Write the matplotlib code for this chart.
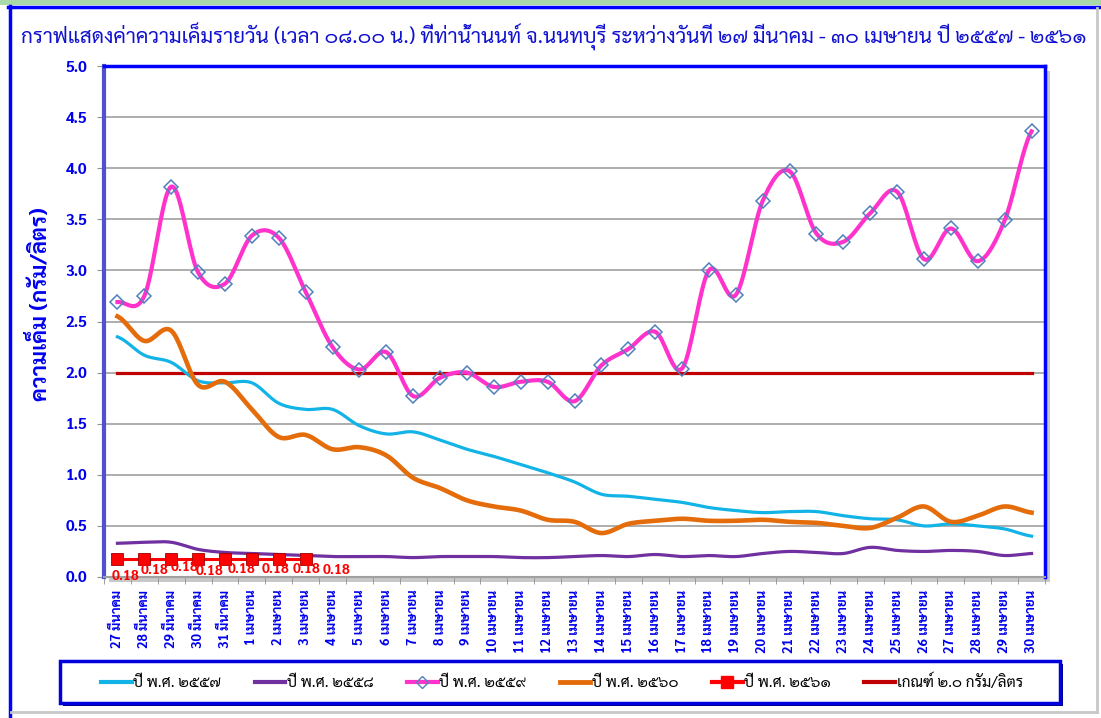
import numpy as np
import matplotlib
matplotlib.use('Agg')
import matplotlib.pyplot as plt
from matplotlib import font_manager
from matplotlib.lines import Line2D
from matplotlib.patches import Rectangle

# วันที่ (แกน x)
days = [f'{d} มีนาคม' for d in range(27, 32)] + [f'{d} เมษายน' for d in range(1, 31)]

# ค่าความเค็มรายปี (กรัม/ลิตร)
y2557 = [2.35, 2.17, 2.10, 1.92, 1.90, 1.90, 1.70, 1.64, 1.64, 1.48, 1.40, 1.42,
         1.34, 1.25, 1.18, 1.10, 1.02, 0.93, 0.81, 0.79, 0.76, 0.73, 0.68, 0.65,
         0.63, 0.64, 0.64, 0.60, 0.57, 0.56, 0.50, 0.52, 0.50, 0.47, 0.40]
y2558 = [0.33, 0.34, 0.34, 0.27, 0.24, 0.23, 0.22, 0.21, 0.20, 0.20, 0.20, 0.19,
         0.20, 0.20, 0.20, 0.19, 0.19, 0.20, 0.21, 0.20, 0.22, 0.20, 0.21, 0.20,
         0.23, 0.25, 0.24, 0.23, 0.29, 0.26, 0.25, 0.26, 0.25, 0.21, 0.23]
y2559 = [2.69, 2.75, 3.82, 2.98, 2.87, 3.34, 3.32, 2.79, 2.25, 2.03, 2.20, 1.77,
         1.95, 2.00, 1.86, 1.91, 1.91, 1.72, 2.07, 2.23, 2.40, 2.04, 3.00, 2.76,
         3.68, 3.97, 3.36, 3.28, 3.56, 3.77, 3.11, 3.41, 3.09, 3.49, 4.36]
y2560 = [2.55, 2.31, 2.41, 1.88, 1.91, 1.64, 1.37, 1.39, 1.25, 1.27, 1.19, 0.97,
         0.87, 0.75, 0.69, 0.65, 0.56, 0.54, 0.43, 0.52, 0.55, 0.57, 0.55, 0.55,
         0.56, 0.54, 0.53, 0.50, 0.48, 0.58, 0.69, 0.54, 0.60, 0.69, 0.63]
y2561 = [0.18, 0.18, 0.18, 0.18, 0.18, 0.18, 0.18, 0.18]
limit = 2.0

W, H = 1101, 718


def fx(px):
    return px / W


def fy(py):
    return 1 - py / H


def smooth(y, n=20):
    # เส้นโค้งแบบ Catmull-Rom ให้คล้ายเส้น smooth ของ Excel
    y = np.asarray(y, float)
    p = np.concatenate([[y[0]], y, [y[-1]]])
    xs, ys = [], []
    t = np.linspace(0, 1, n, endpoint=False)
    for i in range(len(y) - 1):
        p0, p1, p2, p3 = p[i], p[i + 1], p[i + 2], p[i + 3]
        seg = 0.5 * (2 * p1 + (p2 - p0) * t + (2 * p0 - 5 * p1 + 4 * p2 - p3) * t ** 2
                     + (3 * p1 - p0 - 3 * p2 + p3) * t ** 3)
        xs.append(i + t)
        ys.append(seg)
    xs.append([len(y) - 1])
    ys.append([y[-1]])
    return np.concatenate(xs), np.concatenate(ys)


# เลือกฟอนต์ไทยที่มีตัวหนา
bold_names = {f.name for f in font_manager.fontManager.ttflist
              if f.weight in (700, 'bold') or (isinstance(f.weight, int) and f.weight >= 600)}
thai = 'DejaVu Sans'
for name in ['Noto Sans Thai Looped', 'Sarabun', 'Noto Sans Thai', 'Anuphan']:
    if name in bold_names:
        thai = name
        break
plt.rcParams['font.family'] = [thai, 'DejaVu Sans']

blue = '#0000EE'
c57, c58, c59, c60, c61, climit = '#12B3E6', '#7030A0', '#FF33CC', '#E46C0A', '#FF0000', '#C00000'

fig = plt.figure(figsize=(W / 100, H / 100), dpi=100)

# กรอบนอก
fig.patches.append(Rectangle((0, fy(5)), 1, 5 / H, transform=fig.transFigure,
                             facecolor='#A9D8A9', edgecolor='none', zorder=0))
fig.add_artist(Line2D([fx(9.5), fx(9.5)], [0, fy(6)], color='#0000FF', lw=2.5))
fig.add_artist(Line2D([fx(8), 1], [fy(6.5), fy(6.5)], color='#0000FF', lw=2.5))
fig.add_artist(Line2D([fx(1097), fx(1097)], [fy(712), fy(8)], color='#C8C8C8', lw=2))
fig.add_artist(Line2D([fx(11), fx(1097)], [fy(712), fy(712)], color='#C8C8C8', lw=2))

fig.text(fx(21), fy(37), 'กราฟแสดงค่าความเค็มรายวัน (เวลา ๐๘.๐๐ น.) ที่ท่าน้ำนนท์ จ.นนทบุรี '
         'ระหว่างวันที่ ๒๗ มีนาคม - ๓๐ เมษายน ปี ๒๕๕๗ - ๒๕๖๑',
         ha='left', va='center', fontsize=14.9, color='#1010D0')

ax_l, ax_r, ax_t, ax_b = 104, 1045, 66, 577
# เงาพื้นที่กราฟ
fig.patches.append(Rectangle((fx(ax_l + 5), fy(ax_b + 5)), (ax_r - ax_l) / W, (ax_b - ax_t) / H,
                             transform=fig.transFigure, facecolor='#C8C8C8', edgecolor='none', zorder=0))
ax = fig.add_axes([fx(ax_l), fy(ax_b), (ax_r - ax_l) / W, (ax_b - ax_t) / H])
ax.set_zorder(3)
ax.set_facecolor('white')

x = np.arange(len(days))
sx, sy = smooth(y2557)
ax.plot(sx, sy, color=c57, lw=2.3, zorder=3)
sx, sy = smooth(y2558)
ax.plot(sx, sy, color=c58, lw=2.3, zorder=3)
sx, sy = smooth(y2559)
ax.plot(sx, sy, color=c59, lw=3, zorder=4)
ax.plot(x, y2559, ls='none', marker='D', ms=7, mfc='none', mec='#4F81BD', mew=1.1, zorder=5)
sx, sy = smooth(y2560)
ax.plot(sx, sy, color=c60, lw=3.3, zorder=3)
ax.plot(x[:len(y2561)], y2561, color=c61, lw=2.2, marker='s', ms=9, mfc=c61, mec='#A00000',
        mew=0.6, zorder=6)
ax.plot(x, [limit] * len(x), color=climit, lw=2.3, zorder=2)

# ป้ายค่าของปี ๒๕๖๑ (เลื่อนแบบใน Excel)
label_dx = [8, 10, 13, 11, 17, 24, 28, 31]
label_dy = [-18, -12, -9, -13, -11, -11, -11, -12]
for i, v in enumerate(y2561):
    ax.annotate(f'{v:.2f}', (i, v), xytext=(label_dx[i] * 0.72, label_dy[i] * 0.72),
                textcoords='offset points', ha='center', va='center', fontsize=10,
                fontweight='bold', color=c61, zorder=7)

ax.set_xlim(-0.5, len(days) - 0.5)
ax.set_ylim(0, 5)
ax.set_yticks(np.arange(0, 5.01, 0.5))
ax.set_yticklabels([f'{v:.1f}' for v in np.arange(0, 5.01, 0.5)])
ax.set_xticks(x)
ax.set_xticklabels(days, rotation=90)
ax.set_xticks(np.arange(-0.5, len(days), 1), minor=True)
ax.tick_params(axis='x', which='major', length=0, pad=9, labelsize=9.5, labelcolor=blue)
ax.tick_params(axis='x', which='minor', length=5, color='#909090', direction='out')
ax.tick_params(axis='y', length=5, color='#909090', pad=7, labelsize=11, labelcolor=blue)
for lbl in ax.get_xticklabels() + ax.get_yticklabels():
    lbl.set_fontweight('bold')
ax.grid(axis='y', color='#A0A0A0', lw=1.2, zorder=1)
ax.set_axisbelow(True)
ax.spines['left'].set_color('#5050D0')
ax.spines['left'].set_linewidth(3)
ax.spines['top'].set_color('#0000FF')
ax.spines['top'].set_linewidth(2.5)
ax.spines['right'].set_color('#0000FF')
ax.spines['right'].set_linewidth(2.5)
ax.spines['bottom'].set_color('#A0A0A0')
ax.spines['bottom'].set_linewidth(1.5)

fig.text(fx(40), fy(304), 'ความเค็ม (กรัม/ลิตร)', rotation=90, ha='center', va='center',
         fontsize=16, fontweight='bold', color=blue)

# กล่องคำอธิบาย
fig.patches.append(Rectangle((fx(63), fy(706)), 1000 / W, 42 / H, transform=fig.transFigure,
                             facecolor='#000080', edgecolor='none', zorder=0))
fig.patches.append(Rectangle((fx(60), fy(703)), 1000 / W, 42 / H, transform=fig.transFigure,
                             facecolor='white', edgecolor='#0000DD', lw=2.5, zorder=1))
handles = [
    Line2D([], [], color=c57, lw=3),
    Line2D([], [], color=c58, lw=3),
    Line2D([], [], color=c59, lw=3, marker='D', ms=6, mfc='none', mec='#4F81BD'),
    Line2D([], [], color=c60, lw=3.5),
    Line2D([], [], color=c61, lw=3, marker='s', ms=8, mec=c61),
    Line2D([], [], color=climit, lw=3),
]
labels = ['ปี พ.ศ. ๒๕๕๗', 'ปี พ.ศ. ๒๕๕๘', 'ปี พ.ศ. ๒๕๕๙', 'ปี พ.ศ. ๒๕๖๐', 'ปี พ.ศ. ๒๕๖๑',
          'เกณฑ์ ๒.๐ กรัม/ลิตร']
leg = fig.legend(handles, labels, loc='center', bbox_to_anchor=(fx(562), fy(682)), ncol=6,
                 frameon=False, fontsize=11, handlelength=2.0, handletextpad=0.1,
                 columnspacing=2.2)
leg.set_zorder(5)

fig.savefig('out.png', dpi=100)
